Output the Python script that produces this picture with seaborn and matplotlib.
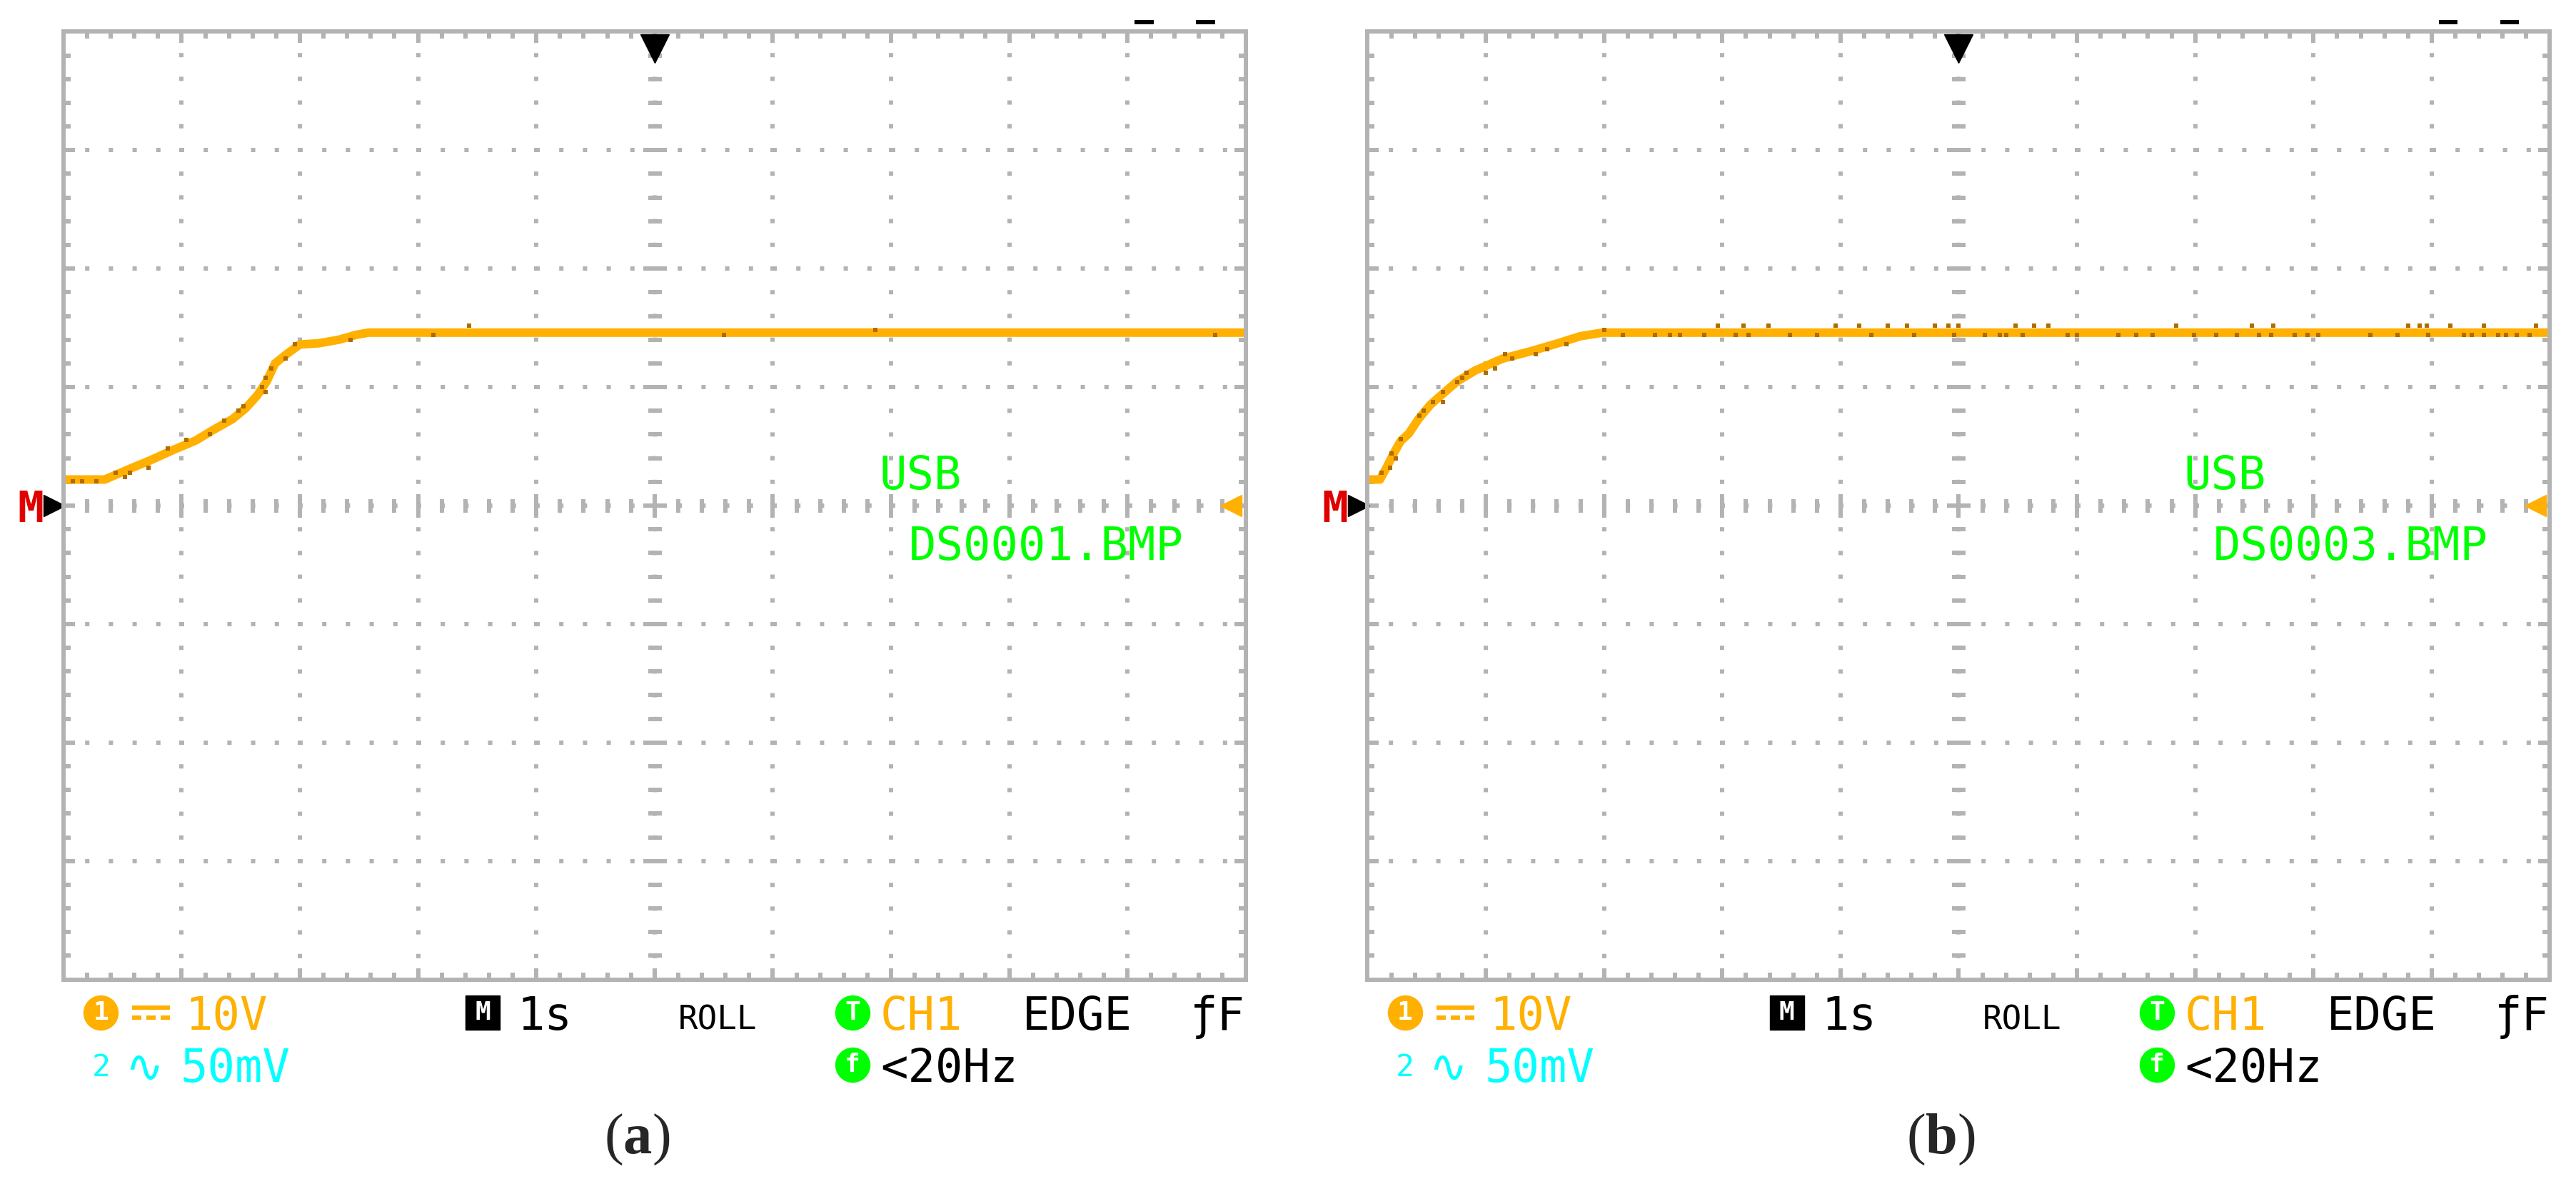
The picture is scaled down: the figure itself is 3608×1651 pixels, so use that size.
import numpy as np
import matplotlib
matplotlib.use('Agg')
import matplotlib.pyplot as plt
import seaborn as sns

# oscilloscope captures (a) and (b): trace in divisions (x: 0..10, y: -4..4)
sns.set_style('white')
plt.rcParams['font.family'] = ['DejaVu Sans Mono', 'DejaVu Sans']
plt.rcParams['lines.scale_dashes'] = False
plt.rcParams['mathtext.fontset'] = 'custom'
plt.rcParams['mathtext.rm'] = 'Liberation Serif'
plt.rcParams['mathtext.bf'] = 'Liberation Serif:bold'

# --- data -------------------------------------------------------------
t_a = [0.0, 0.35, 0.56, 0.73, 0.93, 1.12, 1.27, 1.43, 1.54, 1.64, 1.72, 1.79,
       1.89, 2.00, 2.16, 2.33, 2.47, 2.58, 10.0]
v_a = [0.22, 0.22, 0.31, 0.38, 0.47, 0.55, 0.64, 0.73, 0.82, 0.93, 1.05, 1.20,
       1.28, 1.36, 1.37, 1.40, 1.44, 1.46, 1.46]

t_b = [0.0, 0.105, 0.16, 0.22, 0.28, 0.35, 0.43, 0.53, 0.62, 0.76, 0.91, 1.14,
       1.37, 1.61, 1.80, 1.99, 10.0]
v_b = [0.22, 0.22, 0.32, 0.44, 0.545, 0.61, 0.73, 0.85, 0.93, 1.05, 1.14, 1.24,
       1.30, 1.37, 1.43, 1.46, 1.46]

# darker (persistence) samples
dark_a_x = [0.08, 0.16, 0.28, 0.44, 0.52, 0.56, 0.72, 0.88, 1.04, 1.24, 1.36, 1.48,
            1.52, 1.68, 1.71, 1.71, 1.76, 1.88, 1.96, 2.43, 3.13, 3.43, 5.59, 6.87, 9.74]
dark_a_y = [0.205, 0.205, 0.205, 0.28, 0.24, 0.28, 0.32, 0.48, 0.555, 0.60, 0.72, 0.80,
            0.84, 1.00, 0.96, 1.08, 1.16, 1.24, 1.36, 1.40, 1.44, 1.52, 1.44, 1.48, 1.44]

dark_b_x = [0.117, 0.20, 0.238, 0.19, 0.28, 0.44, 0.475, 0.555, 0.636, 0.636, 0.76, 0.80,
            0.836, 1.00, 1.08, 1.16, 1.22, 1.42, 1.52, 1.68, 2.00, 2.16,
            2.43, 2.56, 2.64, 2.85, 2.96, 3.11, 3.18, 3.22, 3.39, 3.57, 3.80, 3.96,
            4.16, 4.26, 4.40, 4.56, 4.62, 4.80, 4.91, 4.96, 5.00, 5.22,
            5.35, 5.40, 5.48, 5.54, 5.64, 5.76, 5.92, 6.00, 6.35, 6.50, 6.64, 6.84,
            6.99, 7.18, 7.35, 7.48, 7.54, 7.64, 7.66, 7.84, 7.95, 8.04, 8.48, 8.71,
            8.80, 8.90, 8.96, 8.97, 9.16, 9.27, 9.34, 9.44, 9.44, 9.56, 9.63, 9.72,
            9.83, 9.88]
dark_b_y = [0.277, 0.44, 0.40, 0.32, 0.56, 0.76, 0.80, 0.876, 0.96, 0.876, 1.04, 1.08,
            1.12, 1.12, 1.16, 1.28, 1.24, 1.28, 1.32, 1.36, 1.48, 1.44,
            1.44, 1.44, 1.44, 1.44, 1.52, 1.44, 1.52, 1.44, 1.52, 1.44, 1.44, 1.52,
            1.52, 1.44, 1.52, 1.52, 1.44, 1.52, 1.52, 1.44, 1.52, 1.44,
            1.44, 1.44, 1.52, 1.44, 1.52, 1.52, 1.44, 1.44, 1.44, 1.44, 1.44, 1.52,
            1.44, 1.44, 1.44, 1.52, 1.44, 1.44, 1.52, 1.44, 1.44, 1.44, 1.44, 1.44,
            1.52, 1.52, 1.52, 1.44, 1.52, 1.44, 1.44, 1.52, 1.44, 1.44, 1.44, 1.44,
            1.44, 1.52]

files = ['DS0001.BMP', 'DS0003.BMP']
labels = ['a', 'b']

# --- style ------------------------------------------------------------
PX = 0.72  # points per pixel at dpi 100
GRAY = '#b3b3b3'
ORANGE = '#ffb000'
BROWN = '#b06c00'
GREEN = '#00ff00'
CYAN = '#00ffff'
FS = 46


def draw_screen(ax, t, v, dx, dy, fname, label):
    ax.set_xlim(0, 10)
    ax.set_ylim(-4, 4)
    ax.set_xticks(np.arange(0, 11, 1))
    ax.set_xticks(np.arange(0, 10.01, 0.2), minor=True)
    ax.set_yticks(np.arange(-4, 5, 1))
    ax.set_yticks(np.arange(-4, 4.01, 0.2), minor=True)
    ax.tick_params(which='both', direction='in', top=True, right=True, bottom=True,
                   left=True, labelbottom=False, labelleft=False, color=GRAY,
                   width=6 * PX)
    ax.tick_params(which='major', length=16 * PX)
    ax.tick_params(which='minor', length=10 * PX)
    for s in ax.spines.values():
        s.set_color(GRAY)
        s.set_linewidth(6 * PX)
    ax.grid(which='major', color=GRAY, linewidth=6 * PX,
            linestyle=(3 * PX, (6 * PX, 27.2 * PX)))
    ax.set_axisbelow(True)

    # centre cross with sub-division ticks
    sub_x = np.arange(0, 10.01, 0.2)
    sub_y = np.arange(-4, 4.01, 0.2)
    ax.plot(sub_x, np.zeros_like(sub_x), ls='none', marker='|', ms=19 * PX,
            mew=6 * PX, color=GRAY)
    ax.plot(np.arange(1, 10), np.zeros(9), ls='none', marker='|', ms=33 * PX,
            mew=6 * PX, color=GRAY)
    ax.plot(np.full_like(sub_y, 5), sub_y, ls='none', marker='_', ms=19 * PX,
            mew=6 * PX, color=GRAY)
    ax.plot(np.full(7, 5), np.arange(-3, 4), ls='none', marker='_', ms=33 * PX,
            mew=6 * PX, color=GRAY)

    # trace
    sns.lineplot(x=t, y=v, ax=ax, color=ORANGE, linewidth=12 * PX,
                 estimator=None, sort=False, legend=False)
    ax.scatter(dx, dy, marker='s', s=(6 * PX) ** 2, color=BROWN, linewidths=0,
               zorder=3)

    # markers
    ax.plot([5], [3.86], marker='v', ms=40 * PX, color='k', clip_on=False)
    ax.plot([-0.077], [0], marker='>', ms=30 * PX, color='k', clip_on=False)
    ax.text(-0.279, -0.139, 'M', color='#e00000', fontsize=44, fontweight='bold',
            ha='center', va='baseline', clip_on=False)
    ax.plot([9.877], [0], marker='<', ms=30 * PX, color=ORANGE, clip_on=False)

    ax.text(6.90, 0.139, 'USB', color=GREEN, fontsize=FS, va='baseline')
    ax.text(7.15, -0.458, fname, color=GREEN, fontsize=FS, va='baseline')

    # top right dashes
    for x0 in (0.906, 0.958):
        ax.plot([x0, x0 + 0.016], [1.0101, 1.0101], transform=ax.transAxes,
                color='k', lw=6 * PX, solid_capstyle='butt', clip_on=False)

    # status line
    tr = ax.transAxes
    r1, r2 = -0.053, -0.1081
    c1, c2 = -0.0353, -0.0903

    def badge(x, y, txt, col, mk='o'):
        ax.plot([x], [y], marker=mk, ms=48 * PX, color=col, transform=tr,
                clip_on=False)
        ax.text(x, y, txt, color='white', fontsize=26, fontweight='bold',
                ha='center', va='center', transform=tr, clip_on=False)

    badge(0.0316, c1, '1', ORANGE)
    # DC coupling symbol (no installed font has U+2393): solid bar over dashes
    ax.plot([0.0581, 0.0901], [-0.0297, -0.0297], transform=tr, color=ORANGE,
            lw=6 * PX, solid_capstyle='butt', clip_on=False)
    ax.plot([0.0581, 0.0901], [-0.0399, -0.0399], transform=tr, color=ORANGE,
            lw=6 * PX, linestyle=(0, (13 * PX, 7 * PX)), dash_capstyle='butt',
            clip_on=False)
    ax.text(0.103, r1, '10V', color=ORANGE, fontsize=FS, va='baseline', transform=tr)
    badge(0.3546, c1, 'M', 'k', mk='s')
    ax.text(0.384, r1, '1s', color='k', fontsize=FS, va='baseline', transform=tr)
    ax.text(0.520, r1, 'ROLL', color='k', fontsize=33, va='baseline', transform=tr)
    badge(0.6675, c1, 'T', GREEN)
    ax.text(0.691, r1, 'CH1', color=ORANGE, fontsize=FS, va='baseline', transform=tr)
    ax.text(0.811, r1, 'EDGE', color='k', fontsize=FS, va='baseline', transform=tr)
    ax.text(0.953, r1, 'ƒF', color='k', fontsize=FS, va='baseline', transform=tr)

    ax.text(0.024, -0.102, '2', color=CYAN, fontsize=31, va='baseline', transform=tr)
    ax.text(0.052, r2, '∿', color=CYAN, fontsize=FS, va='baseline', transform=tr)
    ax.text(0.099, r2, '50mV', color=CYAN, fontsize=FS, va='baseline', transform=tr)
    badge(0.6675, c2, 'f', GREEN)
    ax.text(0.691, r2, '<20Hz', color='k', fontsize=FS, va='baseline', transform=tr)

    ax.text(0.485, -0.1834, '(' + r'$\mathbf{' + label + '}$' + ')',
            family='Liberation Serif', fontsize=58, ha='center', va='baseline',
            transform=tr)


fig = plt.figure(figsize=(36.08, 16.51), dpi=100)
ax_a = fig.add_axes([0.02461, 0.16923, 0.45898, 0.80388])
ax_b = fig.add_axes([0.53090, 0.16923, 0.45898, 0.80388])

draw_screen(ax_a, t_a, v_a, dark_a_x, dark_a_y, files[0], labels[0])
draw_screen(ax_b, t_b, v_b, dark_b_x, dark_b_y, files[1], labels[1])

fig.savefig('out.png', dpi=100, facecolor='white')
